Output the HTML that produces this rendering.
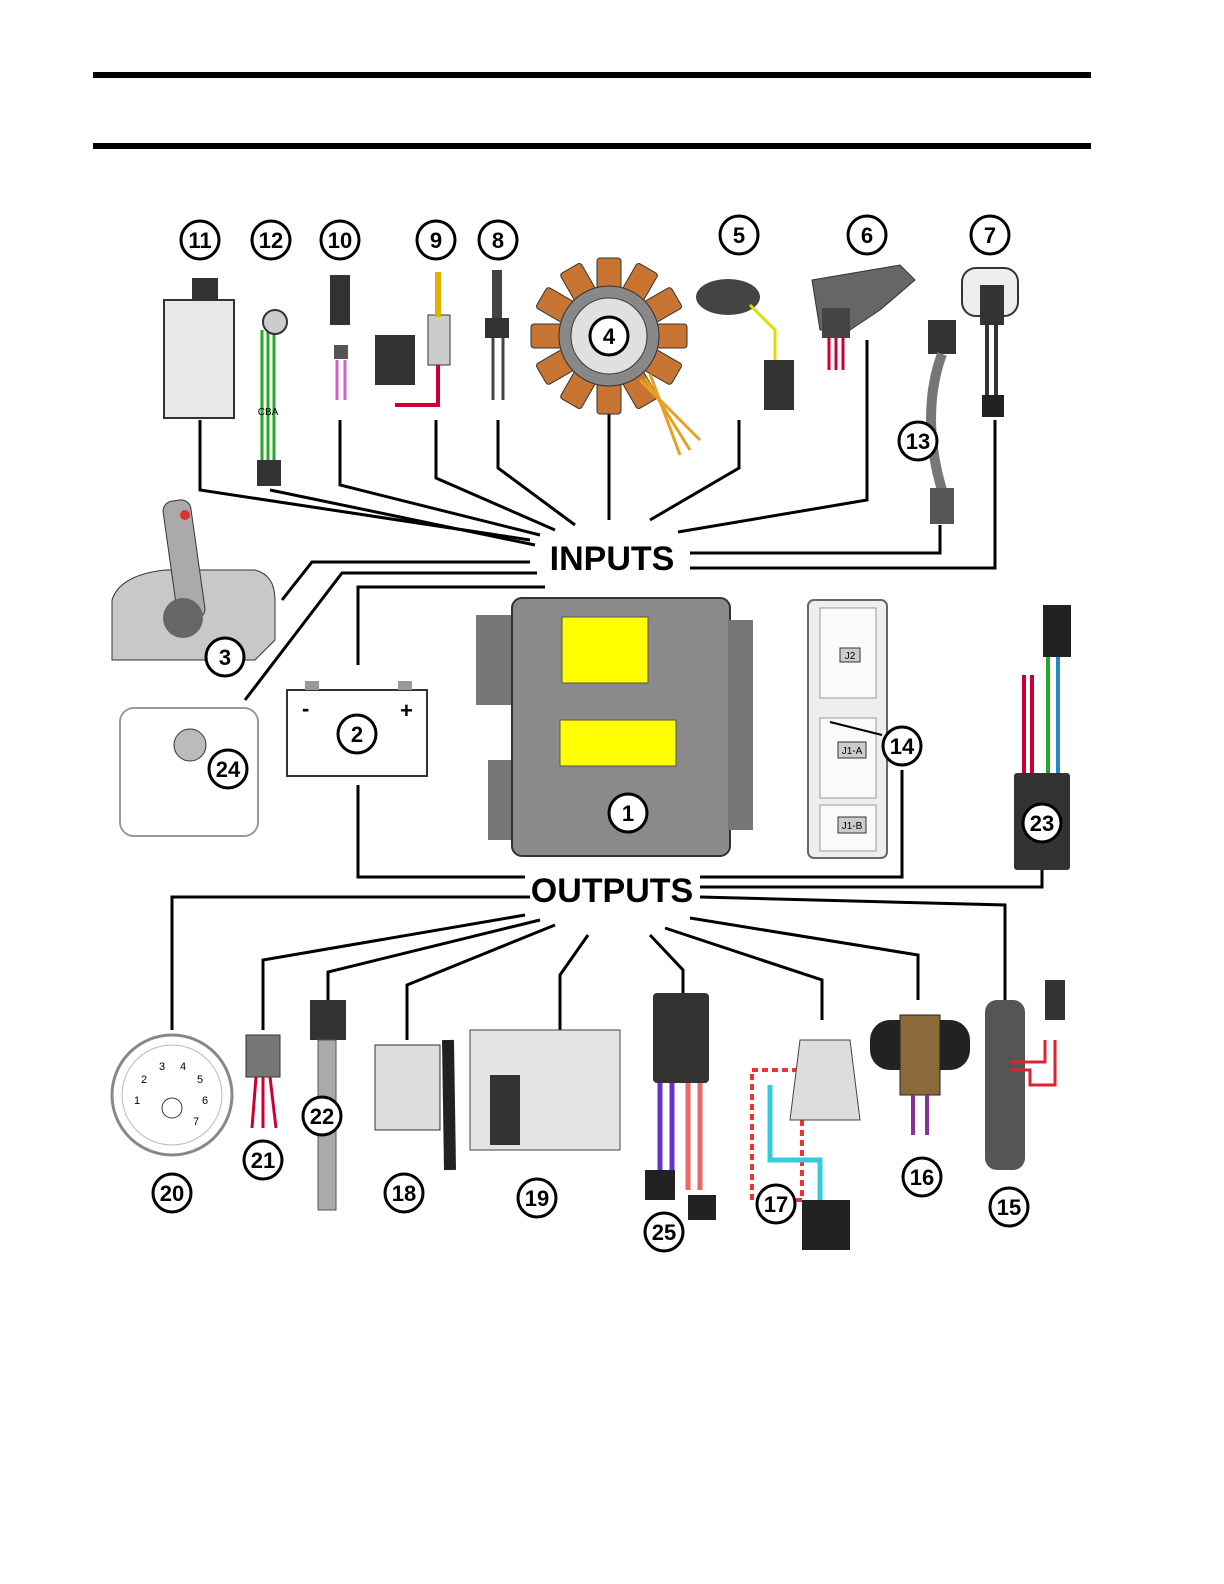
<!DOCTYPE html>
<html><head><meta charset="utf-8"><style>
html,body{margin:0;padding:0;background:#fff;}
svg{display:block;}
text{font-family:"Liberation Sans",sans-serif;}
</style></head><body>
<svg width="1224" height="1584" viewBox="0 0 1224 1584" xmlns="http://www.w3.org/2000/svg">
<rect width="1224" height="1584" fill="#fff"/>
<rect x="93" y="72" width="998" height="6" fill="#000"/>
<rect x="93" y="143" width="998" height="6" fill="#000"/>

<!-- connector lines -->
<g stroke="#000" stroke-width="3" fill="none">
<polyline points="200,420 200,490 530,540"/>
<polyline points="270,490 535,545"/>
<polyline points="340,420 340,485 540,535"/>
<polyline points="436,420 436,478 555,530"/>
<polyline points="498,420 498,468 575,525"/>
<polyline points="609,400 609,520"/>
<polyline points="739,420 739,468 650,520"/>
<polyline points="867,340 867,500 678,532"/>
<polyline points="690,553 940,553 940,525"/>
<polyline points="690,568 995,568 995,420"/>
<polyline points="530,562 312,562 282,600"/>
<polyline points="537,573 342,573 245,700"/>
<polyline points="545,587 358,587 358,665"/>
<polyline points="358,785 358,877 525,877"/>
<polyline points="700,877 902,877 902,770"/>
<polyline points="700,887 1042,887 1042,870"/>
<polyline points="700,897 1005,905 1005,1000"/>
<polyline points="530,897 172,897 172,1030"/>
<polyline points="525,915 263,960 263,1030"/>
<polyline points="540,920 328,972 328,1000"/>
<polyline points="555,925 407,985 407,1040"/>
<polyline points="588,935 560,975 560,1030"/>
<polyline points="650,935 683,970 683,995"/>
<polyline points="665,928 822,980 822,1020"/>
<polyline points="690,918 918,955 918,1000"/>
</g>

<!-- 11 -->
<rect x="164" y="300" width="70" height="118" fill="#e8e8e8" stroke="#333" stroke-width="2"/>
<rect x="192" y="278" width="26" height="22" fill="#333"/>
<!-- 12 -->
<path d="M262 330 L262 460 M268 330 L268 460 M274 330 L274 460" stroke="#2a2" stroke-width="3"/>
<circle cx="275" cy="322" r="12" fill="#ccc" stroke="#333" stroke-width="2"/>
<rect x="257" y="460" width="24" height="26" fill="#333"/>
<text x="268" y="415" font-size="10" text-anchor="middle">CBA</text>
<!-- 10 -->
<rect x="330" y="275" width="20" height="50" fill="#333"/>
<rect x="334" y="345" width="14" height="14" fill="#555"/>
<path d="M337 360 V400 M345 360 V400" stroke="#c6c" stroke-width="3"/>
<!-- 9 -->
<rect x="375" y="335" width="40" height="50" fill="#333"/>
<rect x="428" y="315" width="22" height="50" fill="#ccc" stroke="#333"/>
<rect x="435" y="272" width="6" height="45" fill="#e0b000"/>
<path d="M438 365 V405 H395" stroke="#c03" stroke-width="4" fill="none"/>
<!-- 8 -->
<rect x="492" y="270" width="10" height="50" fill="#444"/>
<rect x="485" y="318" width="24" height="20" fill="#333"/>
<path d="M493 338 V400 M503 338 V400" stroke="#444" stroke-width="3"/>
<!-- 4 stator -->
<g transform="translate(609,336)" fill="#c87533" stroke="#333" stroke-width="1">
<g id="sp"><rect x="-12" y="-78" width="24" height="32" rx="3"/></g>
<use href="#sp" transform="rotate(30)"/><use href="#sp" transform="rotate(60)"/><use href="#sp" transform="rotate(90)"/>
<use href="#sp" transform="rotate(120)"/><use href="#sp" transform="rotate(150)"/><use href="#sp" transform="rotate(180)"/>
<use href="#sp" transform="rotate(210)"/><use href="#sp" transform="rotate(240)"/><use href="#sp" transform="rotate(270)"/>
<use href="#sp" transform="rotate(300)"/><use href="#sp" transform="rotate(330)"/>
<circle r="50" fill="#888"/><circle r="38" fill="#e0e0e0"/>
</g>
<path d="M640 380 L700 440 M645 378 L690 450 M650 374 L680 455" stroke="#e8a020" stroke-width="3"/>
<!-- 5 -->
<ellipse cx="728" cy="297" rx="32" ry="18" fill="#444"/>
<path d="M750 305 L775 330 V360" stroke="#dd0" stroke-width="3" fill="none"/>
<rect x="764" y="360" width="30" height="50" fill="#333"/>
<!-- 6 -->
<path d="M812 280 L900 265 L915 280 L880 310 L850 330 L820 330 Z" fill="#666" stroke="#333"/>
<rect x="822" y="308" width="28" height="30" fill="#444"/>
<path d="M829 338 V370 M836 338 V370 M843 338 V370" stroke="#c03" stroke-width="3"/>
<!-- 13 -->
<rect x="928" y="320" width="28" height="34" fill="#333"/>
<path d="M942 354 C925 400 930 450 942 490" stroke="#777" stroke-width="10" fill="none"/>
<rect x="930" y="488" width="24" height="36" fill="#555"/>
<!-- 7 -->
<rect x="962" y="268" width="56" height="48" rx="14" fill="#eee" stroke="#333" stroke-width="2"/>
<rect x="980" y="285" width="24" height="40" fill="#333"/>
<path d="M987 325 V395 M996 325 V395" stroke="#333" stroke-width="4"/>
<rect x="982" y="395" width="22" height="22" fill="#222"/>

<!-- INPUTS/OUTPUTS -->
<text x="612" y="570" font-size="34" font-weight="bold" text-anchor="middle">INPUTS</text>
<text x="612" y="902" font-size="34" font-weight="bold" text-anchor="middle">OUTPUTS</text>

<!-- 3 -->
<path d="M112 660 L112 600 Q120 575 165 570 L255 570 Q275 575 275 600 L275 640 L255 660 Z" fill="#c8c8c8" stroke="#333"/>
<rect x="170" y="500" width="28" height="120" rx="10" fill="#aaa" stroke="#333" transform="rotate(-8 184 560)"/>
<circle cx="183" cy="618" r="20" fill="#666"/>
<circle cx="185" cy="515" r="5" fill="#d33"/>
<!-- 24 -->
<rect x="120" y="708" width="138" height="128" rx="14" fill="#fff" stroke="#999" stroke-width="2"/>
<circle cx="190" cy="745" r="16" fill="#bbb" stroke="#333"/>
<!-- 2 battery -->
<rect x="287" y="690" width="140" height="86" fill="#fff" stroke="#333" stroke-width="2"/>
<rect x="305" y="681" width="14" height="9" fill="#999"/><rect x="398" y="681" width="14" height="9" fill="#999"/>
<text x="302" y="716" font-size="22" font-weight="bold">-</text>
<text x="400" y="718" font-size="22" font-weight="bold">+</text>
<!-- 1 ECU -->
<rect x="476" y="615" width="40" height="90" fill="#777"/>
<rect x="488" y="760" width="30" height="80" fill="#777"/>
<rect x="512" y="598" width="218" height="258" rx="10" fill="#8a8a8a" stroke="#333" stroke-width="2"/>
<rect x="728" y="620" width="25" height="210" fill="#777"/>
<rect x="562" y="617" width="86" height="66" fill="#ffff00" stroke="#555"/>
<rect x="560" y="720" width="116" height="46" fill="#ffff00" stroke="#555"/>
<!-- 14 -->
<rect x="808" y="600" width="79" height="258" rx="6" fill="#eee" stroke="#666" stroke-width="2"/>
<rect x="820" y="608" width="56" height="90" fill="#fafafa" stroke="#999"/>
<rect x="820" y="718" width="56" height="80" fill="#fafafa" stroke="#999"/>
<rect x="820" y="805" width="56" height="46" fill="#fafafa" stroke="#999"/>
<rect x="840" y="648" width="20" height="14" fill="#ccc" stroke="#333"/><text x="850" y="659" font-size="10" text-anchor="middle">J2</text>
<rect x="838" y="742" width="28" height="16" fill="#ccc" stroke="#333"/><text x="852" y="754" font-size="10" text-anchor="middle">J1-A</text>
<rect x="838" y="817" width="28" height="16" fill="#ccc" stroke="#333"/><text x="852" y="829" font-size="10" text-anchor="middle">J1-B</text>
<line x1="830" y1="722" x2="882" y2="735" stroke="#000" stroke-width="2"/>
<!-- 23 -->
<rect x="1043" y="605" width="28" height="52" fill="#222"/>
<path d="M1024 675 V775 M1032 675 V775 M1048 657 V775 M1058 657 V775" stroke="#c03" stroke-width="4"/>
<path d="M1058 657 V775" stroke="#28c" stroke-width="4"/>
<path d="M1048 657 V775" stroke="#2a2" stroke-width="4"/>
<rect x="1014" y="773" width="56" height="97" rx="3" fill="#333"/>

<!-- outputs components -->
<circle cx="172" cy="1095" r="60" fill="#fff" stroke="#888" stroke-width="3"/>
<circle cx="172" cy="1095" r="50" fill="#fff" stroke="#bbb"/>
<circle cx="172" cy="1108" r="10" fill="#fff" stroke="#333"/>
<g font-size="11" text-anchor="middle"><text x="137" y="1104">1</text><text x="144" y="1083">2</text><text x="162" y="1070">3</text><text x="183" y="1070">4</text><text x="200" y="1083">5</text><text x="205" y="1104">6</text><text x="196" y="1125">7</text></g>
<rect x="246" y="1035" width="34" height="42" fill="#777" stroke="#333"/>
<path d="M256 1077 L252 1128 M263 1077 V1128 M270 1077 L276 1128" stroke="#c03" stroke-width="3"/>
<rect x="310" y="1000" width="36" height="40" fill="#333"/>
<rect x="318" y="1040" width="18" height="170" fill="#aaa" stroke="#555"/>
<path d="M375 1045 L440 1045 L440 1130 L375 1130 Z" fill="#ddd" stroke="#333"/>
<path d="M448 1040 L450 1170" stroke="#222" stroke-width="12"/>
<rect x="470" y="1030" width="150" height="120" fill="#e4e4e4" stroke="#444"/>
<rect x="490" y="1075" width="30" height="70" fill="#333"/>
<rect x="653" y="993" width="56" height="90" rx="4" fill="#333"/>
<path d="M660 1083 V1190 M672 1083 V1190 M688 1083 V1190 M700 1083 V1190" stroke="#63c" stroke-width="5"/>
<path d="M688 1083 V1190 M700 1083 V1190" stroke="#e66" stroke-width="5"/>
<rect x="645" y="1170" width="30" height="30" fill="#222"/><rect x="688" y="1195" width="28" height="25" fill="#222"/>
<rect x="752" y="1070" width="50" height="130" fill="none" stroke="#e33" stroke-width="4" stroke-dasharray="6 4"/>
<path d="M800 1040 L850 1040 L860 1120 L790 1120 Z" fill="#ddd" stroke="#444"/>
<path d="M770 1085 V1160 H820 V1200" stroke="#3cd" stroke-width="5" fill="none"/>
<rect x="802" y="1200" width="48" height="50" fill="#222"/>
<rect x="870" y="1020" width="100" height="50" rx="20" fill="#222"/>
<rect x="900" y="1015" width="40" height="80" fill="#8a6a3a" stroke="#222"/>
<path d="M913 1095 V1135 M927 1095 V1135" stroke="#839" stroke-width="4"/>
<rect x="985" y="1000" width="40" height="170" rx="12" fill="#555"/>
<rect x="1045" y="980" width="20" height="40" fill="#333"/>
<path d="M1010 1070 H1030 V1085 H1055 V1040 M1010 1062 L1045 1062 L1045 1040" stroke="#d23" stroke-width="3" fill="none"/>

<!-- numbered circles -->
<g font-weight="bold" font-size="22" text-anchor="middle">
<g stroke="#000" stroke-width="3" fill="#fff">
<circle cx="200" cy="240" r="19"/><circle cx="271" cy="240" r="19"/><circle cx="340" cy="240" r="19"/>
<circle cx="436" cy="240" r="19"/><circle cx="498" cy="240" r="19"/><circle cx="739" cy="235" r="19"/>
<circle cx="867" cy="235" r="19"/><circle cx="990" cy="235" r="19"/><circle cx="609" cy="336" r="19"/>
<circle cx="918" cy="441" r="19"/><circle cx="225" cy="657" r="19"/><circle cx="357" cy="734" r="19"/>
<circle cx="228" cy="769" r="19"/><circle cx="902" cy="746" r="19"/><circle cx="628" cy="813" r="19"/>
<circle cx="1042" cy="823" r="19"/><circle cx="172" cy="1193" r="19"/><circle cx="263" cy="1160" r="19"/>
<circle cx="322" cy="1116" r="19"/><circle cx="404" cy="1193" r="19"/><circle cx="537" cy="1198" r="19"/>
<circle cx="664" cy="1232" r="19"/><circle cx="776" cy="1204" r="19"/><circle cx="922" cy="1177" r="19"/>
<circle cx="1009" cy="1207" r="19"/>
</g>
<text x="200" y="248">11</text><text x="271" y="248">12</text><text x="340" y="248">10</text>
<text x="436" y="248">9</text><text x="498" y="248">8</text><text x="739" y="243">5</text>
<text x="867" y="243">6</text><text x="990" y="243">7</text><text x="609" y="344">4</text>
<text x="918" y="449">13</text><text x="225" y="665">3</text><text x="357" y="742">2</text>
<text x="228" y="777">24</text><text x="902" y="754">14</text><text x="628" y="821">1</text>
<text x="1042" y="831">23</text><text x="172" y="1201">20</text><text x="263" y="1168">21</text>
<text x="322" y="1124">22</text><text x="404" y="1201">18</text><text x="537" y="1206">19</text>
<text x="664" y="1240">25</text><text x="776" y="1212">17</text><text x="922" y="1185">16</text>
<text x="1009" y="1215">15</text>
</g>
</svg>
</body></html>
